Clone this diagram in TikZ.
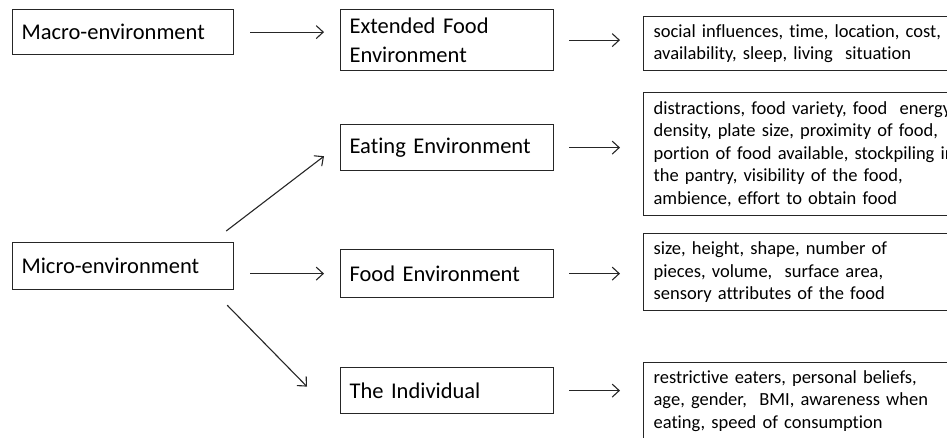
\documentclass[tikz,border=0pt]{standalone}
\usepackage{fontspec}
\setmainfont{Carlito}[Ligatures=CommonOff]
\usetikzlibrary{arrows.meta}
\begin{document}
\begin{tikzpicture}[x=1pt,y=-1pt,
  bigbox/.style={draw=black!85,line width=1.2pt,rectangle,anchor=north west,
    inner xsep=9pt,inner ysep=0pt,align=left,
    font=\fontsize{22.5}{29}\selectfont},
  txtbox/.style={draw=black!85,line width=1.2pt,rectangle,anchor=north west,
    inner xsep=10pt,inner ysep=0pt,align=left,text width=340pt,
    font=\fontsize{18.5}{22.5}\selectfont},
  arr/.style={draw=black!85,line width=1.1pt,
    -{Straight Barb[length=7pt,width=13pt,line width=1.1pt]}}]
\useasboundingbox (0,0) rectangle (947,437);
\clip (0,0) rectangle (947,437);
% left column
\node[bigbox,text width=203pt,minimum height=45pt] (macro) at (12,9) {Macro-environment};
\node[bigbox,text width=203pt,minimum height=47pt] (micro) at (12,242) {Micro-environment};
% middle column
\node[bigbox,text width=195pt,minimum height=61pt] (ext) at (340,9) {Extended Food\\Environment};
\node[bigbox,text width=195pt,minimum height=46pt] (eat) at (340,124) {Eating Environment};
\node[bigbox,text width=195pt,minimum height=48pt] (food) at (340,249) {Food Environment};
\node[bigbox,text width=195pt,minimum height=46pt] (indiv) at (340,367) {The Individual};
% right column
\node[txtbox,minimum height=54pt] (t1) at (643,16) {social influences, time, location, cost,\\availability, sleep, living\ \ situation};
\node[txtbox,minimum height=123pt] (t2) at (643,92) {distractions, food variety, food\ \ energy\\density, plate size, proximity of food,\\portion of food available,\ stockpiling in\\the pantry, visibility\ of the food,\\ambience, effort to obtain food};
\node[txtbox,minimum height=77pt] (t3) at (643,233) {size, height, shape, number of\\pieces, volume,\ \ surface area,\\sensory attributes of the food};
\node[txtbox,minimum height=77pt] (t4) at (643,362) {restrictive eaters, personal beliefs,\\age, gender,\ \ BMI, awareness when\\eating, speed of consumption};
% connectors
\draw[arr] ([xshift=16pt]macro.east) -- ([xshift=-16pt]macro.east -| ext.west);
\draw[arr] ([shift={(-8,-11)}]micro.north east) -- ([shift={(-16,-15)}]eat.south west);
\draw[arr] ([xshift=16pt]micro.east |- food.west) -- ([xshift=-16pt]food.west);
\draw[arr] ([shift={(-7,15)}]micro.south east) -- ([shift={(-33,-4)}]indiv.west);
\draw[arr] ([xshift=15pt]ext.east) -- ([xshift=-23pt]ext.east -| t1.west);
\draw[arr] ([xshift=15pt]eat.east) -- ([xshift=-23pt]eat.east -| t2.west);
\draw[arr] ([xshift=15pt]food.east) -- ([xshift=-23pt]food.east -| t3.west);
\draw[arr] ([xshift=15pt]indiv.east) -- ([xshift=-23pt]indiv.east -| t4.west);
\end{tikzpicture}
\end{document}
